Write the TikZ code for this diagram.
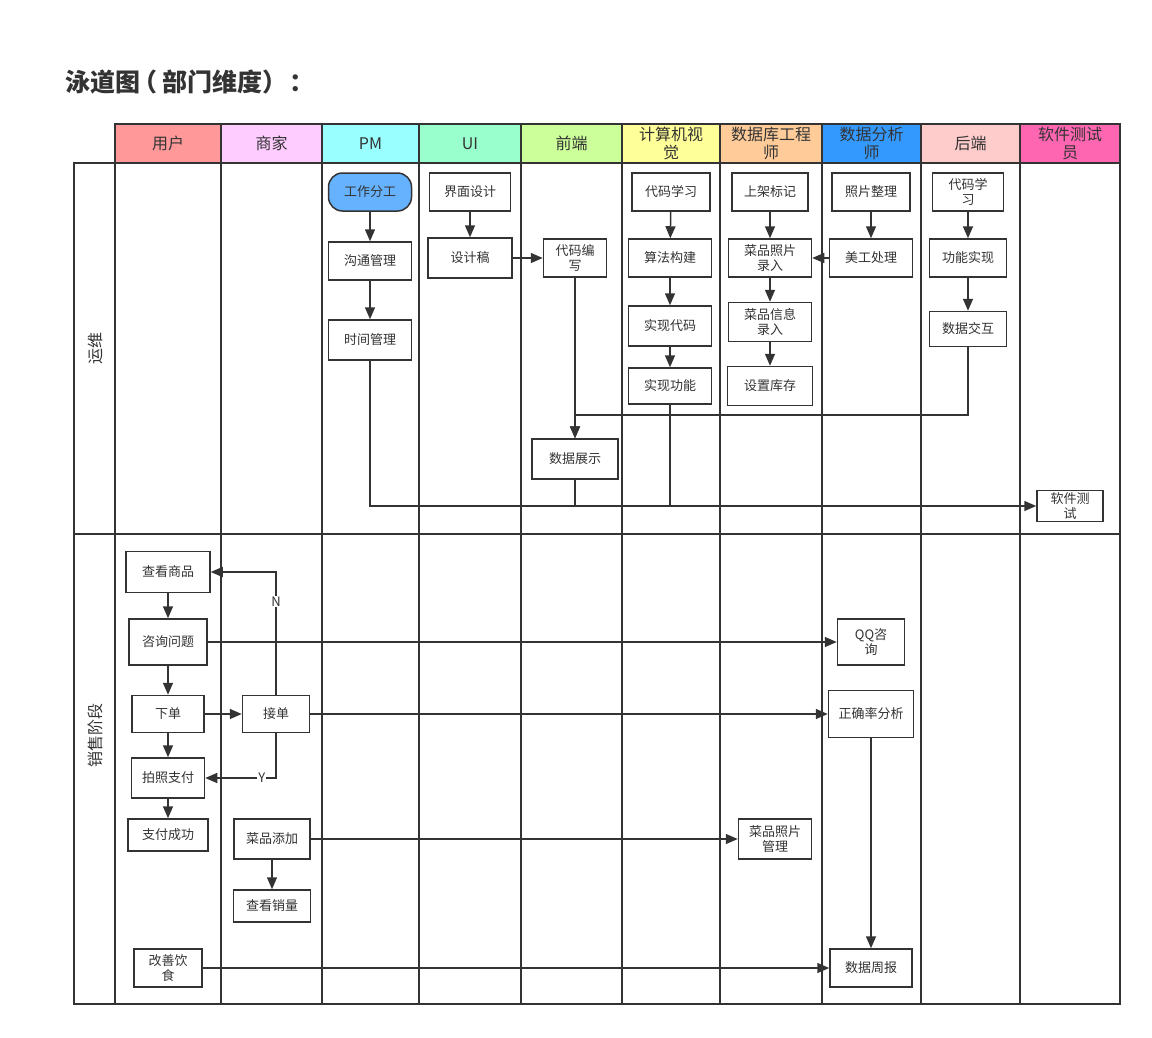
\documentclass[tikz,border=0pt]{standalone}
\usepackage{fontspec}
\setmainfont{Noto Sans CJK SC}
\usetikzlibrary{arrows.meta}
\definecolor{lineC}{HTML}{333333}
\definecolor{cUser}{HTML}{FF9999}
\definecolor{cShop}{HTML}{FFCCFF}
\definecolor{cPM}{HTML}{99FFFF}
\definecolor{cUI}{HTML}{99FFCC}
\definecolor{cFront}{HTML}{CCFF99}
\definecolor{cCV}{HTML}{FFFF99}
\definecolor{cDB}{HTML}{FFCC99}
\definecolor{cDA}{HTML}{3399FF}
\definecolor{cBack}{HTML}{FFCCCC}
\definecolor{cTest}{HTML}{FF66B2}
\definecolor{cStart}{HTML}{66B2FF}
\tikzset{
  lane/.style={line width=1.6pt, draw=lineC},
  task/.style={draw=lineC, line width=1.5pt, fill=white, align=center, inner sep=1pt,
    text=lineC, font=\fontsize{13}{15}\selectfont},
  flow/.style={line width=1.5pt, draw=lineC, -{Triangle[length=12pt,width=10pt]}},
  link/.style={line width=1.5pt, draw=lineC},
}
\begin{document}
\begin{tikzpicture}[x=1pt,y=-1pt]
  \useasboundingbox (0,0) rectangle (1152,1037);
  \node[anchor=west, inner sep=0pt, font=\fontsize{25}{28}\selectfont\bfseries, text=lineC] (title) at (65,82)
    {泳道图\hspace{-8pt}（\hspace{5pt}部门维度）\hspace{2pt}：};

  % column headers
  \foreach \xa/\xb/\name/\col [count=\i] in {115/221/用户/cUser, 221/322/商家/cShop, 322/419/PM/cPM,
      419/521/UI/cUI, 521/622/前端/cFront, 622/720/计算机视\\觉/cCV, 720/822/数据库工程\\师/cDB,
      822/921/数据分析\\师/cDA, 921/1020/后端/cBack, 1020/1120/软件测试\\员/cTest}
  {
    \draw[lane, fill=\col] (\xa,124) rectangle (\xb,163);
    \node[align=center, text=lineC, font=\fontsize{16}{18}\selectfont] (h\i) at ({(\xa+\xb)/2},143.5) {\name};
  }
  % lanes
  \foreach \x in {115,221,322,419,521,622,720,822,921,1020,1120}
    \draw[lane] (\x,163) -- (\x,1004);
  \draw[lane] (74,163) rectangle (1120,1004);
  \draw[lane] (74,534) -- (1120,534);
  \node[rotate=90, text=lineC, font=\fontsize{16}{18}\selectfont] (yunwei) at (95,348) {运维};
  \node[rotate=90, text=lineC, font=\fontsize{16}{18}\selectfont] (xiaoshou) at (95,735) {销售阶段};

  % 运维
  \node[task, fill=cStart, rounded corners=14pt, minimum width=83, minimum height=38] (fengong) at (370,192) {工作分工};
  \node[task, minimum width=83, minimum height=38] (goutong) at (370,261) {沟通管理};
  \node[task, minimum width=83, minimum height=40] (shijian) at (370,340) {时间管理};
  \node[task, minimum width=81, minimum height=38] (jiemian) at (470,192) {界面设计};
  \node[task, minimum width=84, minimum height=40] (sheji) at (470,258) {设计稿};
  \node[task, minimum width=63, minimum height=38] (bianxie) at (575,258) {代码编\\写};
  \node[task, minimum width=86, minimum height=40] (zhanshi) at (575,459) {数据展示};
  \node[task, minimum width=78, minimum height=38] (xuexi) at (671,192) {代码学习};
  \node[task, minimum width=83, minimum height=38] (suanfa) at (670,258) {算法构建};
  \node[task, minimum width=83, minimum height=40] (shixian) at (670,326) {实现代码};
  \node[task, minimum width=83, minimum height=36] (gongneng) at (670,386) {实现功能};
  \node[task, minimum width=76, minimum height=38] (shangjia) at (770,192) {上架标记};
  \node[task, minimum width=83, minimum height=38] (zhaopian) at (770,258) {菜品照片\\录入};
  \node[task, minimum width=83, minimum height=39] (xinxi) at (770,322) {菜品信息\\录入};
  \node[task, minimum width=85, minimum height=39] (kucun) at (770,386) {设置库存};
  \node[task, minimum width=78, minimum height=38] (zhengli) at (871,192) {照片整理};
  \node[task, minimum width=83, minimum height=38] (meigong) at (871,258) {美工处理};
  \node[task, minimum width=71, minimum height=38] (hxuexi) at (968,192) {代码学\\习};
  \node[task, minimum width=77, minimum height=38] (hshixian) at (968,258) {功能实现};
  \node[task, minimum width=77, minimum height=35] (jiaohu) at (968,329) {数据交互};
  \node[task, minimum width=66, minimum height=31] (ceshi) at (1070,506) {软件测\\试};

  \draw[flow] (fengong) -- (goutong);
  \draw[flow] (goutong) -- (shijian);
  \draw[flow] (jiemian) -- (sheji);
  \draw[flow] (sheji) -- (bianxie);
  \draw[flow] (xuexi) -- (suanfa);
  \draw[flow] (suanfa) -- (shixian);
  \draw[flow] (shixian) -- (gongneng);
  \draw[flow] (shangjia) -- (zhaopian);
  \draw[flow] (zhaopian) -- (xinxi);
  \draw[flow] (xinxi) -- (kucun);
  \draw[flow] (zhengli) -- (meigong);
  \draw[flow] (meigong) -- (zhaopian);
  \draw[flow] (hxuexi) -- (hshixian);
  \draw[flow] (hshixian) -- (jiaohu);
  \draw[flow] (bianxie) -- (zhanshi);
  \draw[flow] (jiaohu.south) -- (jiaohu.south |- 0,415) -| (zhanshi.north);
  \draw[flow] (shijian.south) |- (ceshi.west);
  \draw[link] (zhanshi.south) -- (zhanshi.south |- ceshi.west);
  \draw[link] (gongneng.south) -- (gongneng.south |- ceshi.west);

  % 销售阶段
  \node[task, minimum width=84, minimum height=41] (chakan) at (168,572) {查看商品};
  \node[task, minimum width=78, minimum height=46] (zixun) at (168,642) {咨询问题};
  \node[task, minimum width=72, minimum height=37] (xiadan) at (168,714) {下单};
  \node[task, minimum width=73, minimum height=40] (paizhao) at (168,778) {拍照支付};
  \node[task, minimum width=80, minimum height=32] (chenggong) at (168,835) {支付成功};
  \node[task, minimum width=68, minimum height=38] (gaishan) at (168,968) {改善饮\\食};
  \node[task, minimum width=67, minimum height=37] (jiedan) at (276,714) {接单};
  \node[task, minimum width=76, minimum height=40] (tianjia) at (272,839) {菜品添加};
  \node[task, minimum width=77, minimum height=32] (xiaoliang) at (272,906) {查看销量};
  \node[task, minimum width=67, minimum height=46] (qq) at (871,642) {QQ咨\\询};
  \node[task, minimum width=85, minimum height=47] (fenxi) at (871,714) {正确率分析};
  \node[task, minimum width=73, minimum height=40] (guanli) at (775,839) {菜品照片\\管理};
  \node[task, minimum width=82, minimum height=38] (zhoubao) at (871,968) {数据周报};

  \draw[flow] (chakan) -- (zixun);
  \draw[flow] (zixun) -- (xiadan);
  \draw[flow] (xiadan) -- (paizhao);
  \draw[flow] (paizhao) -- (chenggong);
  \draw[flow] (xiadan) -- (jiedan);
  \draw[flow] (jiedan.north) |- node[pos=0.38, fill=white, inner sep=1pt, text=lineC, font=\fontsize{13}{15}\selectfont] {N} (chakan.east);
  \draw[flow] (jiedan.south) |- node[pos=0.6, fill=white, inner sep=1pt, text=lineC, font=\fontsize{13}{15}\selectfont] {Y} (paizhao.east);
  \draw[flow] (zixun) -- (qq);
  \draw[flow] (jiedan) -- (fenxi);
  \draw[flow] (tianjia) -- (guanli);
  \draw[flow] (tianjia) -- (xiaoliang);
  \draw[flow] (fenxi) -- (zhoubao);
  \draw[flow] (gaishan) -- (zhoubao);
\end{tikzpicture}
\end{document}
